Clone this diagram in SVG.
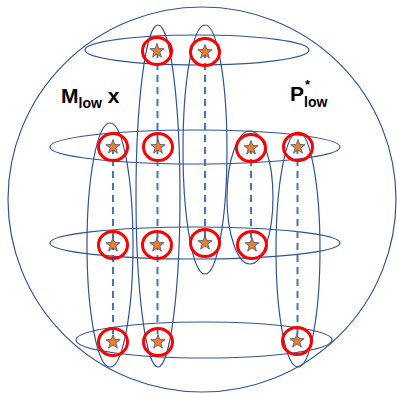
<svg xmlns="http://www.w3.org/2000/svg" width="397" height="393" viewBox="0 0 397 393">
<style>
.ring{fill:none;stroke:#2F5597;stroke-width:1.2}
.dash{fill:none;stroke:#4472C4;stroke-width:2;stroke-dasharray:7 5}
.rc{fill:none;stroke:#FF0000;stroke-width:3}
.star{fill:#ED7D31;stroke:#44546A;stroke-width:0.8}
.lbl{font-family:"Liberation Sans",Arial,sans-serif;font-weight:bold;fill:#000}
</style>
<defs>
<g id="pt">
<ellipse class="rc" cx="0" cy="0" rx="14.5" ry="13.5"/>
<path class="star" d="M0,-7.5 L1.76,-2.43 L7.13,-2.32 L2.85,0.93 L4.41,6.07 L0,3 L-4.41,6.07 L-2.85,0.93 L-7.13,-2.32 L-1.76,-2.43 Z"/>
</g>
</defs>
<rect width="397" height="393" fill="#fff"/>
<g id="sphere">
<ellipse class="ring" cx="202" cy="199.5" rx="194" ry="192.5"/>
</g>
<g id="rings">
<ellipse class="ring" cx="197" cy="50" rx="112" ry="15"/>
<ellipse class="ring" cx="195" cy="147" rx="145" ry="17"/>
<ellipse class="ring" cx="195" cy="243" rx="145" ry="16"/>
<ellipse class="ring" cx="204" cy="340" rx="128" ry="18"/>
</g>
<g id="columns">
<ellipse class="ring" cx="110" cy="245" rx="23" ry="122"/>
<ellipse class="ring" cx="158" cy="196" rx="22" ry="171"/>
<ellipse class="ring" cx="205" cy="149.5" rx="22" ry="124.5"/>
<ellipse class="ring" cx="250" cy="197.5" rx="23" ry="66.5"/>
<ellipse class="ring" cx="298" cy="249.5" rx="22" ry="117.5"/>
</g>
<g id="connectors">
<line class="dash" x1="113" y1="147" x2="113" y2="342"/>
<line class="dash" x1="157.5" y1="51" x2="157.5" y2="342"/>
<line class="dash" x1="205" y1="51" x2="205" y2="244"/>
<line class="dash" x1="251" y1="147" x2="251" y2="244"/>
<line class="dash" x1="297.5" y1="147" x2="297.5" y2="342"/>
</g>
<g id="n1"><use href="#pt" x="157" y="51"/></g>
<g id="n2"><use href="#pt" x="205" y="52"/></g>
<g id="n3"><use href="#pt" x="113" y="147"/></g>
<g id="n4"><use href="#pt" x="158" y="147"/></g>
<g id="n5"><use href="#pt" x="251" y="148"/></g>
<g id="n6"><use href="#pt" x="298" y="147"/></g>
<g id="n7"><use href="#pt" x="113" y="245"/></g>
<g id="n8"><use href="#pt" x="157" y="245"/></g>
<g id="n9"><use href="#pt" x="205" y="243"/></g>
<g id="n10"><use href="#pt" x="252" y="245"/></g>
<g id="n11"><use href="#pt" x="113" y="342"/></g>
<g id="n12"><use href="#pt" x="158" y="342"/></g>
<g id="n13"><use href="#pt" x="297" y="341"/></g>
<g id="label-m">
<text class="lbl" x="61" y="103" font-size="21">M<tspan font-size="14" dy="5">low</tspan><tspan dy="-5"> x</tspan></text>
</g>
<g id="label-p">
<text class="lbl" x="290" y="101" font-size="21">P</text>
<text class="lbl" x="305" y="89" font-size="13">*</text>
<text class="lbl" x="304" y="107" font-size="14">low</text>
</g>
</svg>
